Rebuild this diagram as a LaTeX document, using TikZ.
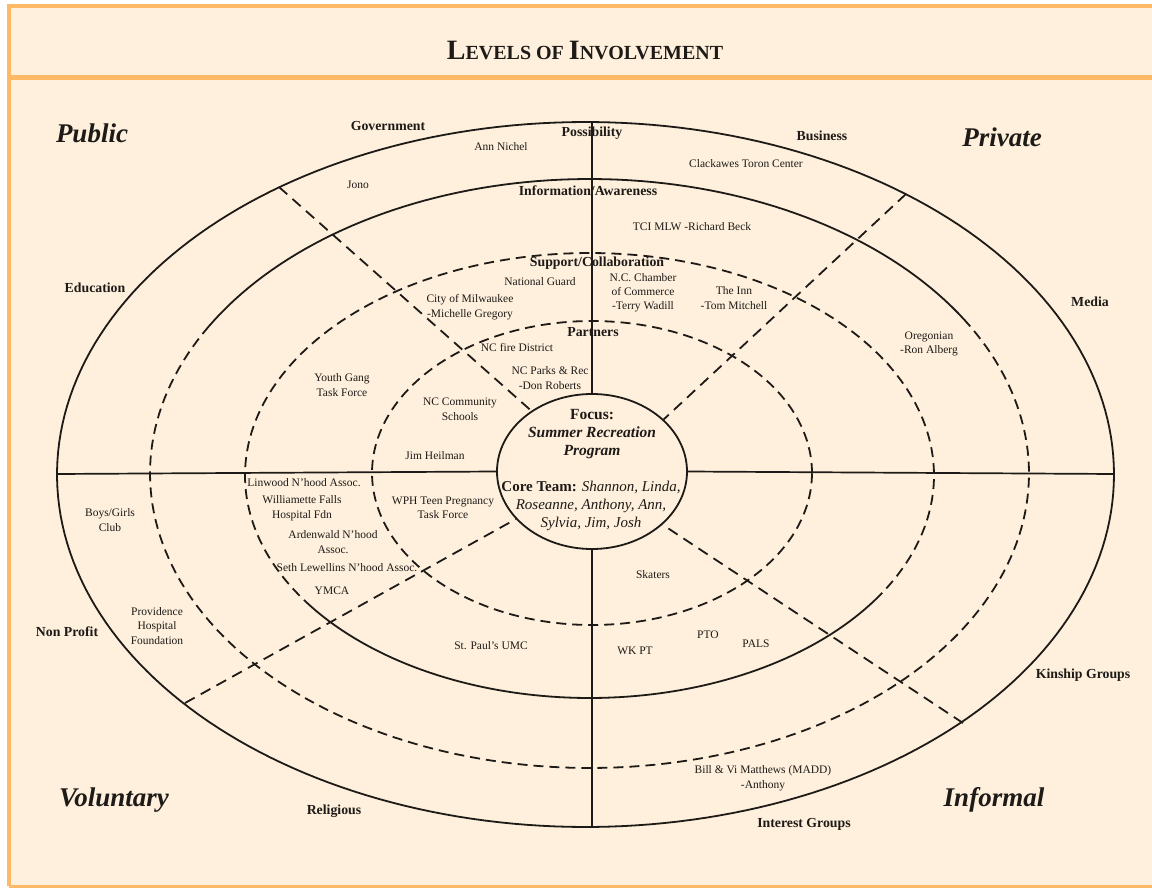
\documentclass[tikz,border=0pt]{standalone}
\usepackage{fontspec}
\setmainfont{Liberation Serif}
\usetikzlibrary{shapes.geometric}
\definecolor{cream}{HTML}{FEF0DC}
\definecolor{frameor}{HTML}{FDB966}
\definecolor{ink}{HTML}{1E1A17}
\newcommand\fsR{\fontsize{11.5}{14.5}\selectfont}
\newcommand\fsB{\bfseries\fontsize{13.8}{16}\selectfont}
\newcommand\fsC{\bfseries\itshape\fontsize{27}{30}\selectfont}
\newcommand\fsF{\fontsize{15.5}{18}\selectfont}
\newcommand\fsT{\fontsize{15}{18}\selectfont}
\begin{document}
\begin{tikzpicture}[x=1pt,y=-1pt,
  lab/.style={font=\fsR, align=center, inner sep=0pt, text=ink},
  blab/.style={font=\fsB, align=center, inner sep=0pt, text=ink},
  corner/.style={font=\fsC, inner sep=0pt, text=ink},
  ring/.style={line width=1.8pt, draw=ink},
  dashring/.style={ring, dash pattern=on 10pt off 6pt},
  spoke/.style={line width=1.8pt, draw=ink, dash pattern=on 11pt off 7pt},
  axisline/.style={line width=1.7pt, draw=ink},
  focusring/.style={ellipse, draw=ink, line width=1.8pt, minimum width=190pt, minimum height=155pt, inner sep=0pt},
  ctext/.style={align=center, inner sep=0pt, text=ink},
]
\useasboundingbox (0,0) rectangle (1152,888);
% frame
\fill[white] (0,0) rectangle (1152,888);
\fill[cream] (9,6) rectangle (1152,886);
\draw[frameor, line width=4pt] (9,886) -- (9,6) -- (1152,6);
\draw[frameor, line width=5pt] (9,78) -- (1152,78);
\draw[frameor, line width=3pt] (9,886) -- (1152,886);
% title
\node[inner sep=0pt, text=ink] (title) at (585,50)
  {\bfseries\fontsize{28}{30}\selectfont L\fontsize{20}{22}\selectfont EVELS OF \fontsize{28}{30}\selectfont I\fontsize{20}{22}\selectfont NVOLVEMENT};
% rings
\draw[ring] plot[domain=0:360,samples=240] ({585.5+528.5*cos(\x)},{474.5-352.5*sin(\x)}) -- cycle;
\draw[ring] plot[domain=30:150,samples=80] ({589.5+439.5*cos(\x)},{473.5-294.5*sin(\x)});
\draw[dashring] plot[domain=150:390,samples=160] ({589.5+439.5*cos(\x)},{473.5-294.5*sin(\x)});
\draw[ring] plot[domain=214:326,samples=80] ({589.5+344.5*cos(\x)},{475.5-222.5*sin(\x)});
\draw[dashring] plot[domain=-34:214,samples=160] ({589.5+344.5*cos(\x)},{475.5-222.5*sin(\x)});
\draw[dashring] plot[domain=0:360,samples=200] ({592+220*cos(\x)},{473-152*sin(\x)});
% focus ellipse
\node[focusring] (focus) at (592,471.5) {};
% axes
\coordinate (axW) at (57,474);
\coordinate (axE) at (1114,474);
\coordinate (axN) at (592,122);
\coordinate (axS) at (592,827);
\draw[axisline] (axW) -- (focus.west);
\draw[axisline] (focus.east) -- (axE);
\draw[axisline] (axN) -- (focus.north);
\draw[axisline] (focus.south) -- (axS);
% spokes
\coordinate (spUL) at (279,187);
\coordinate (spUR) at (906,194);
\coordinate (spLL) at (185,703);
\coordinate (spLR) at (963,723);
\draw[spoke] (spUL) -- (focus.135);
\draw[spoke] (spUR) -- (focus.36);
\draw[spoke] (spLL) -- (focus.212);
\draw[spoke] (spLR) -- (focus.323);
% corner labels
\node[corner] (public) at (92,133) {Public};
\node[corner] (private) at (1002,137) {Private};
\node[corner] (voluntary) at (114,800) {Voluntary};
\node[corner] (informal) at (994,800) {Informal};
% sector labels
\node[blab] (gov) at (388,126) {Government};
\node[blab] (poss) at (592,133) {Possibility};
\node[blab] (bus) at (822,136) {Business};
\node[blab] (edu) at (95,288) {Education};
\node[blab] (media) at (1090,302) {Media};
\node[blab] (nonprofit) at (67,632) {Non Profit};
\node[blab] (kin) at (1083,675) {Kinship Groups};
\node[blab] (rel) at (334,811) {Religious};
\node[blab] (interest) at (804,824) {Interest Groups};
\node[blab] (info) at (588,191) {Information/Awareness};
\node[blab] (supp) at (597,263) {Support/Collaboration};
\node[blab] (partners) at (593,332) {Partners};
% entries
\node[lab] (ann) at (501,147) {Ann Nichel};
\node[lab] (jono) at (358,185) {Jono};
\node[lab] (clack) at (746,164) {Clackawes Toron Center};
\node[lab] (tci) at (692,227) {TCI MLW -Richard Beck};
\node[lab] (natg) at (540,282) {National Guard};
\node[lab] (city) at (470,307) {City of Milwaukee\\-Michelle Gregory};
\node[lab, font=\fontsize{11.5}{14}\selectfont] (ncc) at (643,293) {N.C. Chamber\\of Commerce\\-Terry Wadill};
\node[lab] (inn) at (734,298) {The Inn\\-Tom Mitchell};
\node[lab] (oreg) at (929,344) {Oregonian\\-Ron Alberg};
\node[lab] (fire) at (517,348) {NC fire District};
\node[lab] (parks) at (550,378) {NC Parks \& Rec\\-Don Roberts};
\node[lab] (youth) at (342,385) {Youth Gang\\Task Force};
\node[lab] (schools) at (460,409) {NC Community\\Schools};
\node[lab] (heil) at (435,456) {Jim Heilman};
\node[lab] (linwood) at (304,483) {Linwood N'hood Assoc.};
\node[lab] (willam) at (302,508) {Williamette Falls\\Hospital Fdn};
\node[lab] (arden) at (333,542) {Ardenwald N'hood\\Assoc.};
\node[lab] (seth) at (347,568) {Seth Lewellins N'hood Assoc.};
\node[lab] (ymca) at (332,591) {YMCA};
\node[lab] (wph) at (443,508) {WPH Teen Pregnancy\\Task Force};
\node[lab] (boys) at (110,520) {Boys/Girls\\Club};
\node[lab] (prov) at (157,626) {Providence\\Hospital\\Foundation};
\node[lab] (paul) at (491,646) {St. Paul's UMC};
\node[lab] (skaters) at (653,575) {Skaters};
\node[lab] (wkpt) at (635,651) {WK PT};
\node[lab] (pto) at (708,635) {PTO};
\node[lab] (pals) at (756,644) {PALS};
\node[lab] (bill) at (763,778) {Bill \& Vi Matthews (MADD)\\-Anthony};
% focus text
\node[ctext, font=\fsF] (focustxt) at (592,434) {\textbf{Focus:}\\\textbf{\textit{Summer Recreation}}\\\textbf{\textit{Program}}};
\node[ctext, font=\fsT] (core) at (591,506) {\textbf{Core Team:} \textit{Shannon, Linda,}\\\textit{Roseanne, Anthony, Ann,}\\\textit{Sylvia, Jim, Josh}};
\end{tikzpicture}
\end{document}
